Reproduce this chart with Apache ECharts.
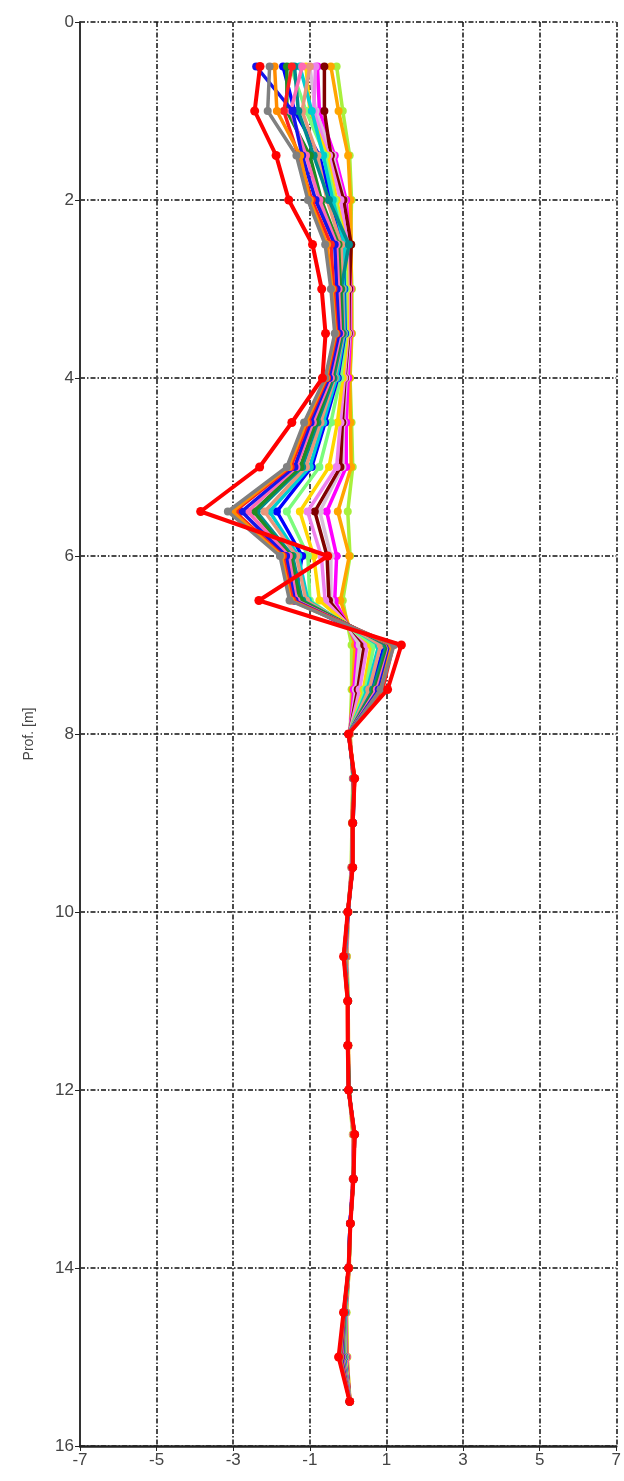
<!DOCTYPE html>
<html>
<head>
<meta charset="utf-8">
<script src="https://cdn.jsdelivr.net/npm/echarts@6/dist/echarts.min.js"></script>
<style>
html,body{margin:0;padding:0;background:#fff;}
#chart{width:624px;height:1481px;}
</style>
</head>
<body>
<div id="chart"></div>
<script>
// Depths (m)
const depths = [0.5,1.0,1.5,2.0,2.5,3.0,3.5,4.0,4.5,5.0,5.5,6.0,6.5,7.0,7.5,
                8.0,8.5,9.0,9.5,10.0,10.5,11.0,11.5,12.0,12.5,13.0,13.5,14.0,14.5,15.0,15.5];

// Displacement readings per survey (same order as depths)
const sLime      = [-0.30,-0.14,0.04,0.09,0.06,0.10,0.10,0.05,0.09,0.12,-0.01,0.05,-0.14,0.09,0.09,
                    0.05,0.12,0.10,0.08,0.00,-0.03,0.00,0.00,0.02,0.12,0.12,0.06,0.02,-0.04,-0.02,0.04];
const sOrange    = [-0.45,-0.25,0.00,0.06,0.08,0.08,0.09,0.04,0.06,0.08,-0.27,0.03,-0.20,0.18,0.12,
                    0.05,0.13,0.10,0.09,0.01,-0.04,0.00,0.01,0.02,0.13,0.12,0.06,0.03,-0.05,-0.03,0.05];
const sMagenta   = [-0.80,-0.75,-0.35,-0.05,0.04,0.06,0.06,0.00,-0.05,-0.05,-0.56,-0.30,-0.35,0.25,0.15,
                    0.04,0.13,0.11,0.09,0.00,-0.05,-0.01,0.00,0.02,0.14,0.12,0.05,0.02,-0.06,-0.04,0.04];
const sLavender  = [-1.00,-0.85,-0.40,-0.10,0.02,0.04,0.04,-0.05,-0.12,-0.15,-0.74,-0.45,-0.45,0.30,0.20,
                    0.04,0.14,0.11,0.10,0.00,-0.05,0.00,0.00,0.01,0.14,0.13,0.06,0.02,-0.06,-0.05,0.04];
const sMaroon    = [-0.62,-0.62,-0.45,-0.12,0.08,0.03,0.02,-0.08,-0.15,-0.20,-0.87,-0.55,-0.50,0.42,0.25,
                    0.03,0.14,0.11,0.10,-0.01,-0.06,-0.01,0.00,0.02,0.15,0.13,0.06,0.02,-0.07,-0.06,0.05];
const sViolet    = [-0.85,-0.90,-0.50,-0.20,-0.02,0.00,0.00,-0.10,-0.20,-0.30,-1.06,-0.70,-0.60,0.50,0.30,
                    0.03,0.15,0.12,0.10,0.00,-0.07,-0.01,-0.01,0.01,0.15,0.13,0.05,0.01,-0.07,-0.07,0.04];
const sYellow    = [-1.10,-1.00,-0.55,-0.30,-0.05,-0.03,-0.02,-0.14,-0.28,-0.50,-1.26,-0.90,-0.75,0.60,0.40,
                    0.03,0.15,0.11,0.11,-0.01,-0.07,0.00,0.00,0.02,0.15,0.14,0.06,0.02,-0.08,-0.08,0.04];
const sLightGreen= [-1.50,-1.10,-0.60,-0.35,-0.08,-0.06,-0.05,-0.20,-0.45,-0.75,-1.60,-1.05,-1.00,0.68,0.45,
                    0.02,0.15,0.12,0.11,-0.01,-0.08,-0.01,-0.01,0.01,0.16,0.13,0.06,0.01,-0.08,-0.09,0.05];
const sBlue      = [-1.70,-1.40,-0.75,-0.45,-0.12,-0.10,-0.08,-0.27,-0.60,-0.95,-1.86,-1.20,-1.40,0.95,0.60,
                    0.02,0.16,0.12,0.11,0.00,-0.08,-0.01,0.00,0.01,0.16,0.14,0.05,0.01,-0.09,-0.10,0.04];
const sCyan      = [-1.26,-0.95,-0.65,-0.40,-0.10,-0.12,-0.10,-0.30,-0.65,-1.00,-2.05,-1.30,-1.05,0.80,0.50,
                    0.02,0.15,0.12,0.12,-0.01,-0.09,0.00,-0.01,0.02,0.16,0.14,0.06,0.02,-0.09,-0.11,0.04];
const sSalmon    = [-1.00,-1.20,-0.80,-0.55,-0.18,-0.15,-0.12,-0.35,-0.72,-1.10,-2.18,-1.35,-1.10,0.85,0.55,
                    0.02,0.16,0.12,0.11,-0.01,-0.09,-0.01,-0.01,0.01,0.16,0.13,0.06,0.01,-0.10,-0.12,0.05];
const sTeal      = [-1.40,-1.30,-0.90,-0.50,0.02,-0.18,-0.14,-0.38,-0.80,-1.20,-2.39,-1.45,-1.20,1.00,0.65,
                    0.01,0.16,0.13,0.12,0.00,-0.10,-0.01,0.00,0.01,0.17,0.14,0.05,0.01,-0.10,-0.14,0.04];
const sGreen     = [-1.60,-1.60,-1.00,-0.70,-0.25,-0.20,-0.17,-0.42,-0.85,-1.25,-2.47,-1.50,-1.25,1.05,0.70,
                    0.02,0.16,0.12,0.12,-0.01,-0.10,-0.01,-0.01,0.02,0.16,0.14,0.06,0.01,-0.10,-0.15,0.04];
const sHotPink   = [-1.20,-1.50,-1.10,-0.75,-0.30,-0.25,-0.20,-0.45,-0.92,-1.35,-2.62,-1.55,-1.35,1.10,0.75,
                    0.01,0.17,0.12,0.12,-0.01,-0.10,-0.02,-0.01,0.01,0.17,0.14,0.06,0.01,-0.11,-0.16,0.05];
const sBlue2     = [-2.40,-1.45,-1.20,-0.85,-0.35,-0.30,-0.24,-0.50,-0.98,-1.40,-2.78,-1.62,-1.40,1.12,0.80,
                    0.01,0.16,0.13,0.12,-0.01,-0.11,-0.01,-0.01,0.01,0.17,0.14,0.05,0.01,-0.11,-0.18,0.04];
const sRed2      = [-1.47,-1.68,-1.30,-0.95,-0.45,-0.38,-0.30,-0.55,-1.05,-1.50,-2.96,-1.70,-1.45,1.18,0.90,
                    0.01,0.17,0.12,0.12,-0.01,-0.11,-0.01,-0.01,0.01,0.17,0.14,0.06,0.01,-0.11,-0.20,0.04];
const sOrange2   = [-1.92,-1.86,-1.25,-1.00,-0.55,-0.42,-0.33,-0.58,-1.10,-1.55,-3.02,-1.74,-1.50,1.15,0.85,
                    0.02,0.17,0.12,0.12,-0.01,-0.11,-0.02,-0.01,0.01,0.16,0.14,0.06,0.02,-0.12,-0.21,0.04];
const sGray      = [-2.05,-2.10,-1.35,-1.05,-0.60,-0.45,-0.35,-0.60,-1.15,-1.60,-3.14,-1.78,-1.53,1.20,0.85,
                    0.01,0.16,0.12,0.12,-0.01,-0.11,-0.01,-0.01,0.01,0.17,0.14,0.06,0.01,-0.12,-0.22,0.04];
const sRed       = [-2.30,-2.44,-1.88,-1.55,-0.93,-0.69,-0.59,-0.67,-1.47,-2.31,-3.85,-0.53,-2.33,1.39,1.03,
                    0.01,0.17,0.12,0.12,-0.01,-0.12,-0.01,-0.01,0.01,0.17,0.14,0.06,0.01,-0.12,-0.25,0.04];

const surveys = [sLime,sOrange,sMagenta,sLavender,sMaroon,sViolet,sYellow,sLightGreen,sBlue,sCyan,
                 sSalmon,sTeal,sGreen,sHotPink,sBlue2,sRed2,sOrange2,sGray,sRed];
const colors = ['#A8F03C','#FFA500','#FF00FF','#D8BFD8','#800000','#EE82EE','#FFD700','#7CFC7C','#0000FF','#00CED1',
                '#E9967A','#008B8B','#228B22','#FF69B4','#1515E8','#FF2020','#FF8C00','#808080','#FF0000'];

const xTicks = [-7,-5,-3,-1,1,3,5,7];
const yTicks = [0,2,4,6,8,10,12,14,16];

const gridDash = [5,2,1.5,2];

const series = surveys.map((vals, i) => {
  const last = i === surveys.length - 1;
  return {
    type: 'line',
    data: vals.map((v, k) => [v, depths[k]]),
    symbol: 'circle',
    symbolSize: last ? 9 : 8,
    showSymbol: true,
    lineStyle: { width: last ? 4 : 3.5, color: colors[i] },
    itemStyle: { color: colors[i] },
    z: 2 + i,
    animation: false
  };
});

const chart = echarts.init(document.getElementById('chart'), null, {renderer: 'canvas'});
chart.setOption({
  animation: false,
  backgroundColor: '#fff',
  grid: { left: 80, right: 7, top: 22, bottom: 35, containLabel: false },
  xAxis: {
    type: 'value', min: -7, max: 7, interval: 2,
    axisLine: { show: true, onZero: false, lineStyle: { color: '#222', width: 2.5 } },
    axisTick: { show: true, length: 5, lineStyle: { color: '#222' } },
    axisLabel: { color: '#444', fontSize: 17, fontFamily: 'Liberation Sans, Arial', margin: 6,
                 formatter: v => xTicks.includes(v) ? String(v) : '' },
    splitLine: { show: true, lineStyle: { color: '#111', width: 1.5, type: gridDash } }
  },
  yAxis: {
    type: 'value', inverse: true, min: 0, max: 16, interval: 2,
    name: 'Prof. [m]', nameLocation: 'middle', nameGap: 44, nameRotate: 90,
    nameTextStyle: { color: '#444', fontSize: 14, fontFamily: 'Liberation Sans, Arial' },
    axisLine: { show: true, onZero: false, lineStyle: { color: '#333', width: 2 } },
    axisTick: { show: true, length: 5, lineStyle: { color: '#222' } },
    axisLabel: { color: '#444', fontSize: 17, fontFamily: 'Liberation Sans, Arial', margin: 6,
                 formatter: v => yTicks.includes(v) ? String(v) : '' },
    splitLine: { show: true, lineStyle: { color: '#111', width: 1.5, type: gridDash } }
  },
  series: series
});
</script>
</body>
</html>
